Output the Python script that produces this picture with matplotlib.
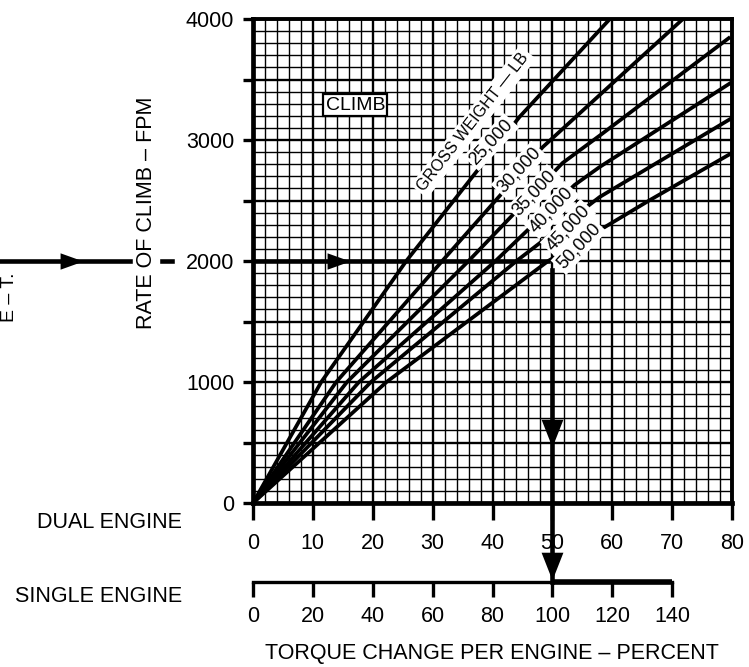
import matplotlib
matplotlib.use("Agg")
import matplotlib.pyplot as plt
from matplotlib.transforms import blended_transform_factory

plt.rcParams["font.family"] = ["Liberation Sans", "DejaVu Sans"]

# curves: torque change (dual engine, %) vs rate of climb (fpm)
WEIGHTS = ["25,000", "30,000", "35,000", "40,000", "45,000", "50,000"]
TORQUE = [
    [0, 11.4, 25.6, 44.5, 59.6],
    [0, 13.9, 31.6, 48.4, 71.8],
    [0, 15.7, 36.0, 51.7, 58.0, 79.7],
    [0, 17.7, 40.5, 53.7, 57.9, 80.0],
    [0, 19.7, 44.0, 57.9, 80.0],
    [0, 22.3, 49.3, 66.3, 80.0],
]
ROC = [
    [0, 1000, 2000, 3190, 4000],
    [0, 1000, 2000, 2942, 4000],
    [0, 1000, 2000, 2810, 3040, 3851],
    [0, 1000, 2000, 2628, 2777, 3479],
    [0, 1000, 2000, 2529, 3182],
    [0, 1000, 2000, 2504, 2893],
]
# where the weight labels sit (torque %, fpm)
LABEL_X = [39.8, 44.4, 47.0, 49.9, 52.6, 54.4]
LABEL_Y = [2983, 2752, 2562, 2421, 2273, 2124]

DUAL_TICKS = list(range(0, 81, 10))
SINGLE_TICKS = list(range(0, 141, 20))
ROC_TICKS = list(range(0, 4001, 500))

# example path: 2000 fpm at 50 % dual / 100 % single
EX_ROC = 2000
EX_TORQUE = 50

W, H = 749, 667
fig = plt.figure(figsize=(W / 100, H / 100), dpi=100)


def fx(px):
    return px / W


def fy(py):
    return 1 - py / H


L, R, B, T = 253, 732, 503, 19
ax = fig.add_axes([fx(L), fy(B), fx(R) - fx(L), fy(T) - fy(B)])
ax.set_xlim(0, 80)
ax.set_ylim(0, 4000)

# grid
ax.set_xticks(DUAL_TICKS)
ax.set_xticks(range(0, 81, 2), minor=True)
ax.set_yticks(ROC_TICKS)
ax.set_yticks(range(0, 4001, 100), minor=True)
ax.grid(which="minor", color="black", lw=1.0, zorder=0)
ax.grid(which="major", color="black", lw=1.7, zorder=0)
ax.set_axisbelow(True)

ax.set_xticklabels([str(v) for v in DUAL_TICKS], fontsize=15.5)
ax.set_yticklabels([str(v) if v % 1000 == 0 else "" for v in ROC_TICKS], fontsize=15.5)
ax.tick_params(axis="x", which="major", direction="out", length=12.5, width=2.4, pad=9)
ax.tick_params(axis="y", which="major", direction="out", length=7.5, width=2.4, pad=6)
ax.tick_params(which="minor", length=0)

for s in ("left", "bottom"):
    ax.spines[s].set_linewidth(3.4)
for s in ("top", "right"):
    ax.spines[s].set_linewidth(2.8)

# curves
for tx, ry in zip(TORQUE, ROC):
    ax.plot(tx, ry, color="black", lw=2.7, solid_capstyle="butt",
            solid_joinstyle="round", zorder=3)

# labels on the curves
for lab, lx, ly in zip(WEIGHTS, LABEL_X, LABEL_Y):
    ax.text(lx, ly, lab, fontsize=13, rotation=47, rotation_mode="anchor",
            ha="center", va="center", zorder=5,
            bbox=dict(boxstyle="square,pad=0.12", fc="white", ec="none"))
ax.text(36.8, 3149, "GROSS WEIGHT \u2014 LB", fontsize=11.5, rotation=52,
        rotation_mode="anchor", ha="center", va="center", zorder=5,
        bbox=dict(boxstyle="square,pad=0.2", fc="white", ec="none"))

ax.text(17.1, 3289, "CLIMB", fontsize=14, ha="center", va="center", zorder=5,
        bbox=dict(boxstyle="square,pad=0.12", fc="white", ec="black", lw=1.6))

# example arrows
ax.plot([0, 49.2], [EX_ROC, EX_ROC], color="black", lw=3.3, zorder=4)
ax.plot([EX_TORQUE, EX_TORQUE], [1926, -653], color="black", lw=3.3,
        zorder=4, clip_on=False)
head_r = [(0, 0), (-1.4, 0.5), (-1.4, -0.5)]
head_d = [(0, 0), (-0.55, 1.4), (0.55, 1.4)]
ax.plot([16.2], [EX_ROC], marker=head_r, ms=33, color="black", mew=0, zorder=4)
ax.plot([EX_TORQUE], [463], marker=head_d, ms=40, color="black", mew=0, zorder=4)
ax.plot([EX_TORQUE], [-640], marker=head_d, ms=40, color="black", mew=0,
        zorder=6, clip_on=False)

# continuation of the line from the left-hand chart
bt = blended_transform_factory(fig.transFigure, ax.transData)
ax.plot([0, fx(130)], [EX_ROC, EX_ROC], color="black", lw=3.3,
        transform=bt, clip_on=False)
ax.plot([fx(162), fx(172)], [EX_ROC, EX_ROC], color="black", lw=3.3,
        transform=bt, clip_on=False)
ax.plot([fx(83)], [EX_ROC], marker=head_r, ms=33, color="black", mew=0,
        transform=bt, clip_on=False)

# single engine scale
ax2 = fig.add_axes([fx(L), fy(582), fx(R) - fx(L), 0.0001])
ax2.set_xlim(0, 160)
ax2.set_ylim(0, 1)
ax2.patch.set_visible(False)
for s in ("left", "right", "top"):
    ax2.spines[s].set_visible(False)
ax2.spines["bottom"].set_bounds(0, 140)
ax2.spines["bottom"].set_linewidth(2.4)
ax2.plot([100, 140], [0, 0], color="black", lw=4.0, clip_on=False,
         solid_capstyle="butt")
ax2.set_yticks([])
ax2.set_xticks(SINGLE_TICKS)
ax2.set_xticklabels([str(v) for v in SINGLE_TICKS], fontsize=15.5)
ax2.tick_params(axis="x", direction="out", length=11, width=2.4, pad=6)

# text
fig.text(fx(147), fy(213), "RATE OF CLIMB \u2013 FPM", rotation=90,
         fontsize=15.5, ha="center", va="center")
fig.text(fx(182), fy(523), "DUAL ENGINE", fontsize=15.5, ha="right", va="center")
fig.text(fx(182), fy(597), "SINGLE ENGINE", fontsize=15.5, ha="right", va="center")
fig.text(fx(492), fy(653), "TORQUE CHANGE PER ENGINE \u2013 PERCENT",
         fontsize=15.5, ha="center", va="center")
fig.text(fx(0.5), fy(297), "E \u2013 T.", rotation=90, fontsize=14,
         ha="left", va="center")

fig.savefig("out.png", dpi=100)
